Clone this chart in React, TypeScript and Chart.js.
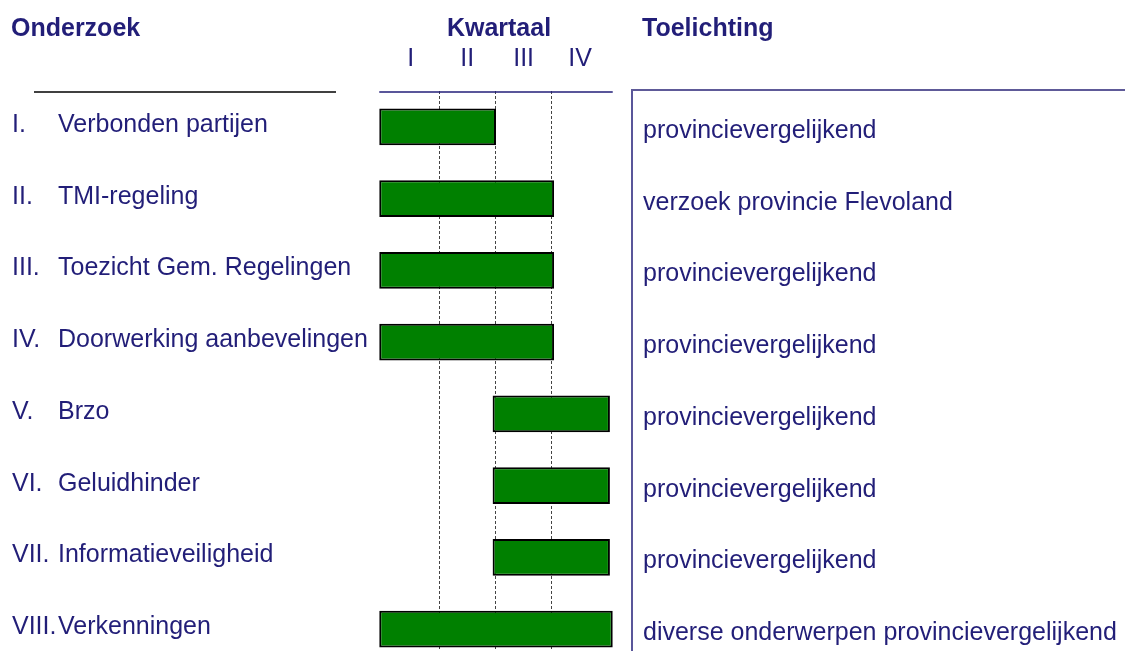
import React, { useEffect, useRef } from "react";
import { Chart, registerables } from "chart.js";

Chart.register(...registerables);

const numerals = ["I.", "II.", "III.", "IV.", "V.", "VI.", "VII.", "VIII."];
const projects = [
  "Verbonden partijen",
  "TMI-regeling",
  "Toezicht Gem. Regelingen",
  "Doorwerking aanbevelingen",
  "Brzo",
  "Geluidhinder",
  "Informatieveiligheid",
  "Verkenningen",
];
const startQ = [-0.06, -0.06, -0.06, -0.06, 1.95, 1.95, 1.95, -0.06];
const endQ = [2.01, 3.04, 3.04, 3.04, 4.03, 4.03, 4.03, 4.08];
const notes = [
  "provincievergelijkend",
  "verzoek provincie Flevoland",
  "provincievergelijkend",
  "provincievergelijkend",
  "provincievergelijkend",
  "provincievergelijkend",
  "provincievergelijkend",
  "diverse onderwerpen provincievergelijkend",
];
const quarterLabels = ["I", "II", "III", "IV"];
const headings = ["Onderzoek", "Kwartaal", "Toelichting"];

const NAVY = "#221e78";
const FONT = "'Liberation Sans', Arial, sans-serif";

const overlayPlugin = {
  id: "overlay",
  afterDraw(chart: any) {
    const ctx = chart.ctx as CanvasRenderingContext2D;
    const x = chart.scales.x;
    const y = chart.scales.y;
    ctx.save();
    // headings
    ctx.fillStyle = NAVY;
    ctx.font = `bold 25px ${FONT}`;
    ctx.textBaseline = "alphabetic";
    ctx.textAlign = "left";
    ctx.fillText(headings[0], 11, 36);
    ctx.fillText(headings[2], 642, 36);
    ctx.textAlign = "center";
    const minS = Math.min(...startQ);
    const maxE = Math.max(...endQ);
    const x0 = x.getPixelForValue(minS);
    const x1 = x.getPixelForValue(maxE);
    ctx.fillText(headings[1], (x0 + x1) / 2 + 3, 36);
    // quarter labels
    ctx.font = `25px ${FONT}`;
    quarterLabels.forEach((q, i) => {
      ctx.fillText(q, x.getPixelForValue(i + 0.5), 66);
    });
    // lines
    ctx.strokeStyle = "#000";
    ctx.lineWidth = 1.5;
    ctx.beginPath();
    ctx.moveTo(34, 92);
    ctx.lineTo(336, 92);
    ctx.stroke();
    ctx.strokeStyle = NAVY;
    ctx.lineWidth = 1.5;
    ctx.beginPath();
    ctx.moveTo(x0, 92);
    ctx.lineTo(x1, 92);
    ctx.stroke();
    ctx.beginPath();
    ctx.moveTo(632, 90);
    ctx.lineTo(632, chart.height);
    ctx.stroke();
    ctx.strokeStyle = "#5e5a98";
    ctx.lineWidth = 2;
    ctx.beginPath();
    ctx.moveTo(631, 90);
    ctx.lineTo(chart.width, 90);
    ctx.stroke();
    // row labels
    ctx.textAlign = "left";
    ctx.fillStyle = NAVY;
    ctx.font = `25px ${FONT}`;
    projects.forEach((p, i) => {
      const cy = y.getPixelForValue(i);
      const base = cy + 5;
      ctx.fillText(numerals[i], 12, base);
      const w = ctx.measureText(numerals[i]).width;
      ctx.fillText(p, Math.max(58, 12 + w + 0.5), base);
      ctx.fillText(notes[i], 643, cy + 11);
    });
    ctx.restore();
  },
};

export default function App() {
  const ref = useRef<HTMLCanvasElement>(null);
  useEffect(() => {
    if (!ref.current) return;
    Chart.defaults.font.family = FONT;
    const chart = new Chart(ref.current, {
      type: "bar",
      data: {
        labels: projects,
        datasets: [
          {
            data: startQ.map((s, i) => [s, endQ[i]]) as any,
            backgroundColor: "#008000",
            borderColor: "#000",
            borderWidth: 2,
            borderSkipped: false,
            categoryPercentage: 0.51,
            barPercentage: 1,
          },
        ],
      },
      options: {
        indexAxis: "y",
        animation: false,
        responsive: false,
        events: [],
        layout: { padding: { left: 377, right: 505.5, top: 91, bottom: 0 } },
        plugins: { legend: { display: false }, tooltip: { enabled: false } },
        scales: {
          x: {
            type: "linear",
            min: -0.1,
            max: 4.2,
            display: true,
            afterBuildTicks: (s: any) => {
              s.ticks = [1, 2, 3].map((v) => ({ value: v }));
            },
            ticks: { display: false },
            grid: { color: "#444", lineWidth: 1, drawTicks: false },
            border: { display: false, dash: [3, 2] },
          },
          y: { display: false },
        },
      },
      plugins: [overlayPlugin],
    });
    return () => chart.destroy();
  }, []);
  return (
    <div
      style={{
        position: "absolute",
        left: 0,
        top: 0,
        width: 1125,
        height: 651,
        overflow: "hidden",
        background: "#fff",
      }}
    >
      <canvas ref={ref} width={1125} height={665} />
    </div>
  );
}
